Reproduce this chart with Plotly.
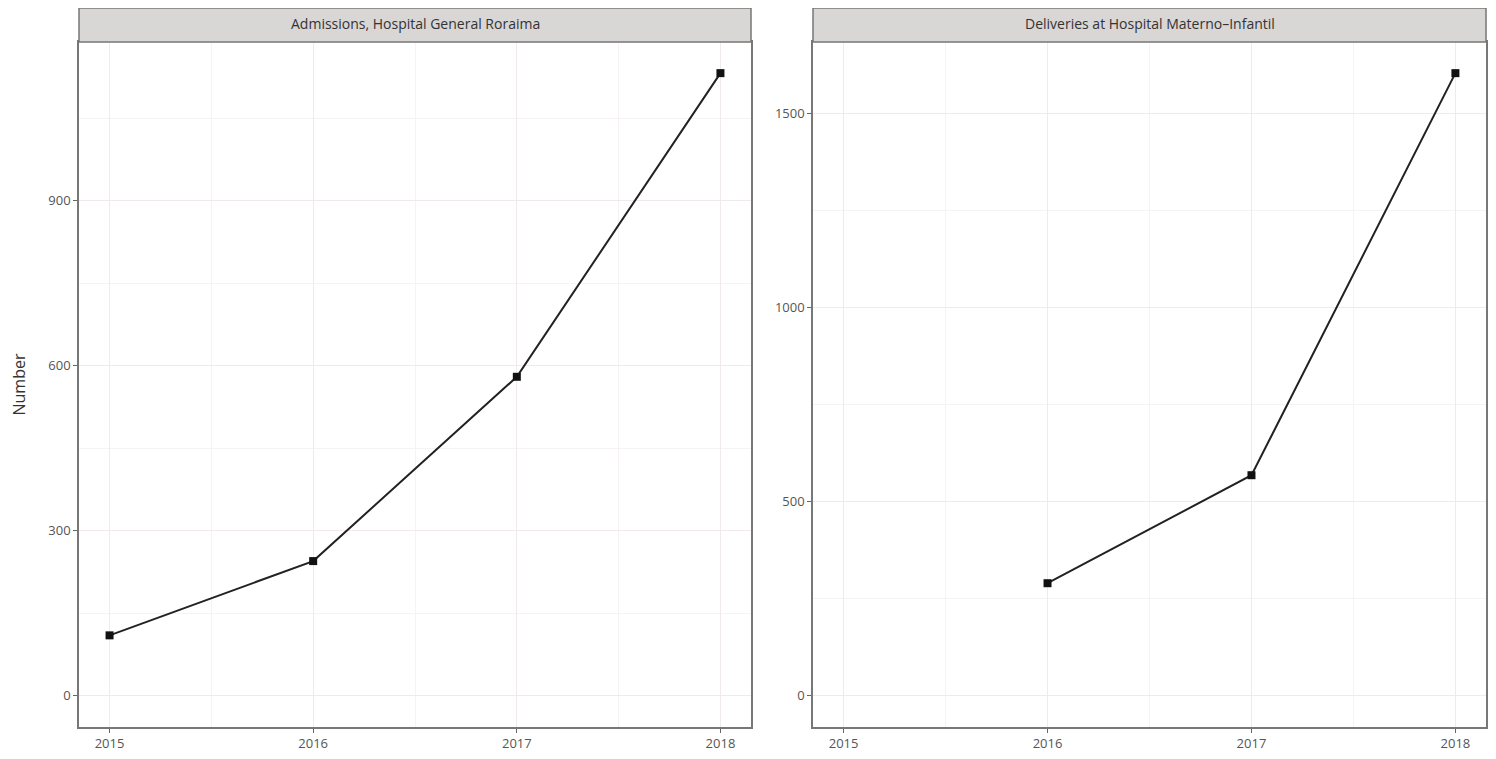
import plotly.graph_objects as go

# Data
panel_titles = ["Admissions, Hospital General Roraima", "Deliveries at Hospital Materno\u2013Infantil"]
years_admissions = [2015, 2016, 2017, 2018]
admissions = [110, 245, 580, 1132]
years_deliveries = [2016, 2017, 2018]
deliveries = [290, 568, 1603]
x_ticks = [2015, 2016, 2017, 2018]

OFF = 8  # default body margin of the html page
W, H = 1496 - 2 * OFF, 759 - 2 * OFF
fig = go.Figure()

def px_x(p):
    return (p - OFF) / W

def px_y(p):
    return (H - (p - OFF)) / H

dom1 = [px_x(79), px_x(751)]
dom2 = [px_x(813), px_x(1486)]
ydom = [px_y(727), px_y(42)]

line_style = dict(color="#222222", width=2)
marker_style = dict(symbol="square", size=8, color="#111111")

fig.add_trace(go.Scatter(x=years_admissions, y=admissions, mode="lines+markers",
                         line=line_style, marker=marker_style, xaxis="x", yaxis="y",
                         showlegend=False))
fig.add_trace(go.Scatter(x=years_deliveries, y=deliveries, mode="lines+markers",
                         line=line_style, marker=marker_style, xaxis="x2", yaxis="y2",
                         showlegend=False))

tickfont = dict(family="Open Sans", size=13, color="#555555")
grid_major = "#f1eaea"
grid_minor = "#f8f3f3"
axis_common = dict(showline=True, linecolor="#777777", linewidth=1.5, mirror=True,
                   ticks="outside", ticklen=4, tickcolor="#666666", tickfont=tickfont,
                   showgrid=True, gridcolor=grid_major, gridwidth=1.2, zeroline=False,
                   automargin=False)

def xaxis(domain, anchor):
    return dict(domain=domain, anchor=anchor, range=[2014.85, 2018.15],
                tickvals=x_ticks, ticktext=[str(v) for v in x_ticks],
                minor=dict(showgrid=True, gridcolor=grid_minor, dtick=0.5, tick0=2014.5, ticks=""),
                **axis_common)

def yaxis(domain, anchor, rng, dtick):
    return dict(domain=domain, anchor=anchor, range=rng, dtick=dtick, tick0=0,
                minor=dict(showgrid=True, gridcolor=grid_minor, dtick=dtick / 2, tick0=0, ticks=""),
                **axis_common)

a_max = max(admissions)
d_max = max(deliveries)
fig.update_layout(
    width=W, height=H,
    margin=dict(l=0, r=0, t=0, b=0),
    paper_bgcolor="white", plot_bgcolor="white",
    xaxis=xaxis(dom1, "y"),
    yaxis=yaxis(ydom, "x", [-0.05 * a_max, 1.05 * a_max], 300),
    xaxis2=xaxis(dom2, "y2"),
    yaxis2=yaxis(ydom, "x2", [-0.05 * d_max, 1.05 * d_max], 500),
)

# Strip headers
strip_top = min(px_y(5), 1.0)
for dom, title in zip([dom1, dom2], panel_titles):
    fig.add_shape(type="rect", xref="paper", yref="paper",
                  x0=dom[0], x1=dom[1], y0=ydom[1], y1=strip_top,
                  fillcolor="#d9d6d6", line=dict(color="#777777", width=1.5), layer="above")
    fig.add_annotation(xref="paper", yref="paper", x=(dom[0] + dom[1]) / 2,
                       y=(ydom[1] + px_y(5)) / 2, text=title, showarrow=False,
                       font=dict(family="Open Sans", size=14, color="#333333"),
                       xanchor="center", yanchor="middle")

# Y-axis title
fig.add_annotation(xref="paper", yref="paper", x=px_x(18), y=(ydom[0] + ydom[1]) / 2,
                   text="Number", textangle=-90, showarrow=False,
                   font=dict(family="Open Sans", size=16, color="#333333"),
                   xanchor="center", yanchor="middle")

fig.write_html("out.html")
